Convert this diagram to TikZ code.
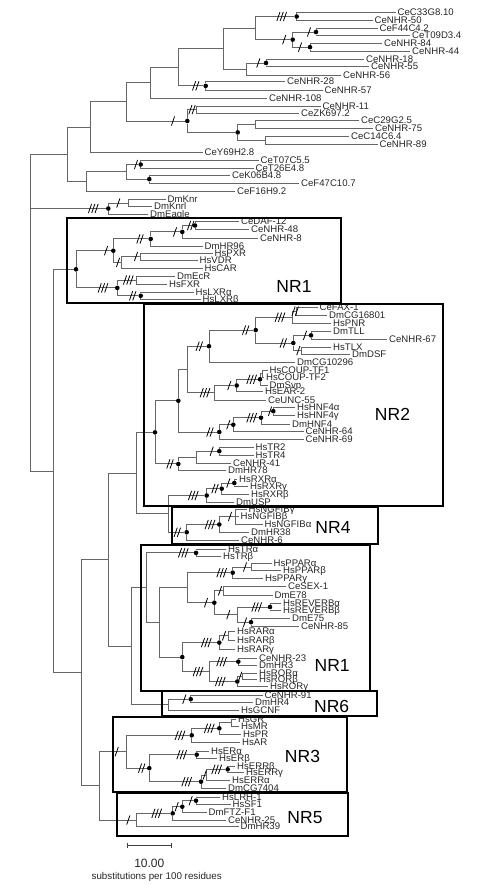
\documentclass[tikz,border=0pt]{standalone}
\usepackage{fontspec}
\setmainfont{Liberation Sans}
\usetikzlibrary{arrows.meta}

\begin{document}
\begin{tikzpicture}[x=1pt,y=-1pt]
  \colorlet{branchcolor}{black!60}
  \colorlet{boxcolor}{black}
  \tikzset{
    branch/.style={draw=branchcolor,line width=1pt},
    leaf/.style={anchor=west,inner xsep=2pt,inner ysep=0pt,text height=7.2pt,text depth=1pt,
      font=\fontsize{9.6}{10}\selectfont,text=black!85},
    dot/.style={circle,fill=black,inner sep=0pt,minimum size=4.6pt},
    cutline/.style={draw=black,line width=0.8pt},
    pics/cuts/.style={code={
      \foreach \i in {1,...,#1}
        \draw[cutline] ({(\i-(#1+1)/2)*3.3-1.6},4.6) -- ++(3.2,-9.2);}},
    nrbox/.style={draw=boxcolor,line width=1.8pt},
    nrlabel/.style={font=\fontsize{17.5}{18}\selectfont}
  }
  \useasboundingbox (0,0) rectangle (500,887);

  \foreach \n/\x/\y in {a5/255.7/28.05, a7/246.7/69, a8/223.3/48.5, a10/178.3/67.2,
      a11/150.7/82.75, a12/196.7/109.65, a13/255.7/124.5, a14/265/140.35,
      a17/126.7/101.9, a18/90/127.3, a21/126.7/171.8, a22/86/181.75, a23/67.7/154.5,
      b1/128.3/203, c5/140.7/256.5, c6/121.7/262.4, c8/136/280,
      k1/296.7/311.15, k2/292.7/317.2, k4/301.7/350.65, k8/262.3/373.65,
      k11/214.3/392.75, k12/187.3/369.5, k19/196.7/457.2, e3/235/516.5,
      d4/168.3/513.9, d3/136/473.1, g2/251.7/567, g4/223.3/590.85, g7/237.3/614.6,
      g9/187.3/587.7, g10/228.3/635.85, g13/242.7/676.3, g15/209.3/671.6,
      g17/159.3/622.4, g18/146/587.6, h1/168.3/704.95, d10/131.7/646.3,
      d2/108.3/559.7, p1/231.7/722.65, p6/206.7/775, p9/126.7/751.7,
      q4/136.7/820, d20/99.3/785.85, d1/81/672.8, c1/53.3/471, root/30.7/312.7}
    \coordinate (\n) at (\x,\y);
  \foreach \n/\x/\y in {a1/296.7/16.5, a2/316/32, a3/310/47.15, a4/292.7/39.6,
      a6/266/63, a9/205.7/85.85, a15/237.7/132.4, a16/187.3/121, a19/140.7/164.5,
      a20/149.3/179.15, b2/108.3/208.5, c2/195/225.5, c3/182.3/231.9,
      c4/150.7/238.95, c7/113.3/250.7, c9/140.7/295.8, c10/117.3/287.9, c11/76/269.3,
      k3/311/335.35, k5/293.3/343, k6/255.7/330.1, k7/209/346.2, k9/260/379.3,
      k10/236.7/385.5, k13/273.3/411.15, k14/261/417.7, k15/233.3/424.7,
      k16/219.3/432, k17/178.3/400.75, k18/219.3/451.15, k20/178.3/463.95,
      k21/155/432.35, m1/234.3/483, m2/221.7/488.65, m3/206.7/495.5,
      e2/219.3/524.5, e1/186.7/532.25, g1/196/552.85, g3/232.7/572.65,
      g5/270/607, g6/251/622.15, g8/214.3/602.7, g11/219.3/642.6, g12/238.3/661.65,
      g14/237.3/681.5, g16/182.3/657.1, h2/190.7/699.2, p2/219.3/728.3,
      p3/191.7/735.3, p4/196.7/754.65, p5/227.7/769.35, p7/201/781.65,
      p8/149.3/768.15, q1/196/800.65, q2/182.3/806.7, q3/172.7/813.35}
    \node[dot] (\n) at (\x,\y) {};

  \foreach \n/\x/\y/\t in {c33/395.5/12.3/CeC33G8.10, n50/372.5/20.7/CeNHR-50,
      f44/377.5/28.3/CeF44C4.2, t09/410/35.7/CeT09D3.4, n84/382/43.3/CeNHR-84,
      n44/410/51/CeNHR-44, n18/364/59.3/CeNHR-18, n55/369/66.7/CeNHR-55,
      n56/341/75/CeNHR-56, n28/285/81.7/CeNHR-28, n57/322.5/90/CeNHR-57,
      n108/267/98.3/CeNHR-108, n11/320.5/106/CeNHR-11, zk/299/113.3/CeZK697.2,
      c29/359/120.7/CeC29G2.5, n75/373/128.3/CeNHR-75, c14/349/136/CeC14C6.4,
      n89/377.5/144.7/CeNHR-89, y69/202.5/152.7/CeY69H2.8, t07/258.5/160.7/CeT07C5.5,
      t26/253.5/168.3/CeT26E4.8, k06/230/175/CeK06B4.8, f47/299/183.3/CeF47C10.7,
      f16/235/191.7/CeF16H9.2, knr/165.5/199.3/DmKnr, knrl/152/206.7/DmKnrl,
      eagle/148/214/DmEagle,
      daf/239/221.7/CeDAF-12, n48/249/229.3/CeNHR-48, n8/258/238.3/CeNHR-8,
      hr96/202.5/246/DmHR96, pxr/212.5/253/HsPXR, vdr/197.5/260/HsVDR,
      car/202.5/268.3/HsCAR, ecr/175/276/DmEcR, fxr/167/284/HsFXR,
      lxra/193.5/292.3/HsLXRα, lxrb/200.5/299.3/HsLXRβ,
      fax/317.5/307.3/CeFAX-1, cg16/327/315/DmCG16801, pnr/331/323.3/HsPNR,
      tll/331/331.7/DmTLL, n67/387/339/CeNHR-67, tlx/331/347.3/HsTLX,
      dsf/350/354/DmDSF, cg10/295/362.3/DmCG10296, coup1/267.5/370/HsCOUP-TF1,
      coup2/264/377.3/HsCOUP-TF2, svp/267.5/385/DmSvp, ear2/263/391.7/HsEAR-2,
      unc55/266/400/CeUNC-55, hnf4a/295/407.3/HsHNF4α, hnf4g/295/415/HsHNF4γ,
      dhnf4/290/424.3/DmHNF4, n64/303.5/431.7/CeNHR-64, n69/303.5/439.3/CeNHR-69,
      tr2/253.5/447.3/HsTR2, tr4/253.5/455/HsTR4, n41/231/463.3/CeNHR-41,
      hr78/226/470.7/DmHR78,
      rxra/237/479.3/HsRXRα, rxrg/248/486.7/HsRXRγ, rxrb/249/494.3/HsRXRβ,
      usp/234/502.3/DmUSP,
      ngg/246.5/509/HsNGFIBγ, ngb/238.5/516.5/HsNGFIBβ, nga/262.5/524/HsNGFIBα,
      hr38/249/532.5/DmHR38, n6/239/540/CeNHR-6,
      tra/226/549/HsTRα, trb/221/556.7/HsTRβ, ppa/271.5/563.3/HsPPARα,
      ppb/281/570.7/HsPPARβ, ppg/263/578.3/HsPPARγ, sex/286/586.7/CeSEX-1,
      e78/272.5/595/DmE78, reva/281/603.3/HsREVERBα, revb/281/610.7/HsREVERBβ,
      e75/290/618.3/DmE75, n85/299/626/CeNHR-85, rara/235/631.7/HsRARα,
      rarb/235/640/HsRARβ, rarg/235/649.3/HsRARγ, n23/257/658.3/CeNHR-23,
      hr3/257/665/DmHR3, rora/257/673.3/HsRORα, rorb/257/679.3/HsRORβ,
      rorg/268/686.7/HsRORγ,
      n91/262.5/695.7/CeNHR-91, hr4/253/702.7/DmHR4, gcnf/239/710.7/HsGCNF,
      gr/236/719.3/HsGR, mr/239/726/HsMR, pr/241/734/HsPR, ar/240/742.3/HsAR,
      era/209/751/HsERα, erb/217/758.3/HsERβ, errb/235/766/HsERRβ,
      errg/244/772.7/HsERRγ, erra/230/780.7/HsERRα, cg74/226/788.3/DmCG7404,
      lrh/220/797.3/HsLRH-1, sf1/230.5/804/HsSF1, ftz/206.5/812.7/DmFTZ-F1,
      n25/226/820/CeNHR-25, hr39/238.5/826.7/DmHR39}
    \node[leaf] (\n) at (\x,\y) {\t};

  \foreach \p/\c in {root/a23, root/b2, root/c1, a23/a18, a23/a22, a18/a17, a18/y69,
      a17/a11, a17/a16, a11/a10, a11/n108, a10/a8, a10/a9, a8/a5, a8/a7, a5/a1, a5/a4,
      a1/c33, a1/n50, a4/a2, a4/a3, a2/f44, a2/t09, a3/n84, a3/n44, a7/a6, a7/n56,
      a6/n18, a6/n55, a9/n28, a9/n57, a16/a12, a16/a15, a12/n11, a12/zk, a15/a13,
      a15/a14, a13/c29, a13/n75, a14/c14, a14/n89, a22/a21, a22/f16, a21/a19,
      a21/a20, a19/t07, a19/t26, a20/k06, a20/f47, b2/b1, b2/eagle, b1/knr, b1/knrl,
      c1/c11, c1/d1, c11/c7, c11/c10, c7/c4, c7/c6, c4/c3, c4/hr96, c3/c2, c3/n8,
      c2/daf, c2/n48, c6/c5, c6/car, c5/pxr, c5/vdr, c10/c8, c10/c9, c8/ecr, c8/fxr,
      c9/lxra, c9/lxrb, d1/d2, d1/d20, d2/d3, d2/d10, d3/k21, d3/d4,
      k21/k17, k21/k20, k17/k12, k17/k16, k12/k7, k12/k11, k7/k6, k7/cg10, k6/k2,
      k6/k5, k2/k1, k2/pnr, k1/fax, k1/cg16, k5/k3, k5/k4, k3/tll, k3/n67, k4/tlx,
      k4/dsf, k11/k10, k11/unc55, k10/k9, k10/ear2, k9/k8, k9/svp, k8/coup1,
      k8/coup2, k16/k15, k16/n69, k15/k14, k15/n64, k14/k13, k14/dhnf4, k13/hnf4a,
      k13/hnf4g, k20/k19, k20/hr78, k19/k18, k19/n41, k18/tr2, k18/tr4,
      d4/m3, d4/e1, m3/m2, m3/usp, m2/m1, m2/rxrb, m1/rxra, m1/rxrg, e1/e2, e1/n6,
      e2/e3, e2/hr38, e3/ngg, e3/ngb, e3/nga,
      d10/g18, d10/h1, g18/g1, g18/g17, g1/tra, g1/trb, g17/g9, g17/g16, g9/g3,
      g9/g8, g3/g2, g3/ppg, g2/ppa, g2/ppb, g8/g4, g8/g7, g4/sex, g4/e78, g7/g5,
      g7/g6, g5/reva, g5/revb, g6/e75, g6/n85, g16/g11, g16/g15, g11/g10, g11/rarg,
      g10/rara, g10/rarb, g15/g12, g15/g14, g12/n23, g12/hr3, g14/g13, g14/rorg,
      g13/rora, g13/rorb, h1/h2, h1/gcnf, h2/n91, h2/hr4,
      d20/p9, d20/q4, p9/p3, p9/p8, p3/p2, p3/ar, p2/p1, p2/pr, p1/gr, p1/mr,
      p8/p4, p8/p7, p4/era, p4/erb, p7/p6, p7/cg74, p6/p5, p6/erra, p5/errb,
      p5/errg, q4/q3, q4/hr39, q3/q2, q3/n25, q2/q1, q2/ftz, q1/lrh, q1/sf1}
    \draw[branch] (\p) |- (\c);

  \foreach \c/\d/\k in {a1/15/3, a2/7/1, a3/10/1, a4/8.5/1, a6/7.7/1, a9/10/2,
      a12/4.7/2, a16/14.3/1, a19/4.7/1, b1/10/1, b2/15/3,
      c2/4.3/2, c3/7.3/1, c4/10.7/2, c5/4.7/1, c6/3.7/1, c7/7.3/1, c8/7.7/3,
      c9/8/2, c10/14.3/3,
      k1/1.5/2, k2/12.7/3, k3/6/1, k4/3.4/1, k5/10/2, k6/10/2, k7/9.7/2, k9/8.3/3,
      k10/7.4/1, k11/9.3/3, k13/3.3/1, k14/9.3/3, k15/5/1, k16/9.3/2, k18/7.6/1,
      k20/8.3/2, m1/6/1, m2/6.7/2, m3/13.4/3, e3/5/1, e2/9.3/3, e1/9.4/2,
      g1/12.7/3, g2/6.7/1, g3/11/3, g4/3.3/1, g5/13.3/3, g6/6/1, g8/8.3/1, g7/9/1,
      g10/4.3/1, g11/13/3, g12/16.7/3, g14/17/3, g13/2.5/1, g15/11.3/3, h2/6.4/1,
      p2/10/3, p3/11.7/3, p4/15/3, p5/11/3, p6/2/1, p7/14.3/3, p8/7.6/2, p9/10/1,
      q1/5.3/1, q2/5.6/1, q3/16/3, q4/8.4/1}
    \path (\c) ++(-\d,0) pic{cuts=\k};

  \draw[nrbox] (66.7,217.7) rectangle (340.7,302.7);
  \draw[nrbox] (144.3,304) rectangle (443.3,505.7);
  \draw[nrbox] (171.7,506.7) rectangle (378.3,544);
  \draw[nrbox] (140.7,545) rectangle (369.7,690.7);
  \draw[nrbox] (162.3,691) rectangle (376.7,716);
  \draw[nrbox] (113.3,716.7) rectangle (346.7,792.3);
  \draw[nrbox] (116.7,792.7) rectangle (347.7,835.7);

  \node[nrlabel] (nr1top) at (294,286) {NR1};
  \node[nrlabel] (nr2) at (392.5,414.2) {NR2};
  \node[nrlabel] (nr4) at (333,527.5) {NR4};
  \node[nrlabel] (nr1low) at (332.2,665) {NR1};
  \node[nrlabel] (nr6) at (331.7,706.3) {NR6};
  \node[nrlabel] (nr3) at (302.5,756.7) {NR3};
  \node[nrlabel] (nr5) at (305,817.5) {NR5};

  \coordinate (barl) at (126.7,845.7);
  \coordinate (barr) at (172.3,845.7);
  \draw[branch,draw=black!75,{Bar[width=5pt]}-{Bar[width=5pt]}] (barl) -- (barr);
  \node[font=\fontsize{12}{13}\selectfont,text=black!85] (barvalue) at (149.3,863.3) {10.00};
  \node[font=\fontsize{9.8}{11}\selectfont,text=black!85] (barunit) at (156.7,877.3)
    {substitutions per 100 residues};
\end{tikzpicture}
\end{document}
